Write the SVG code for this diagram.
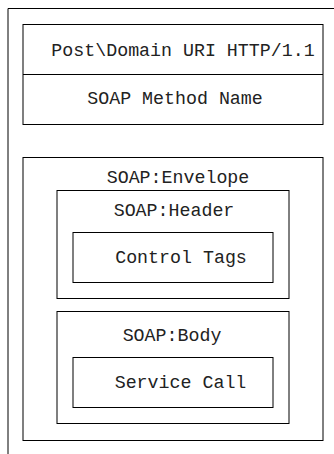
<svg xmlns="http://www.w3.org/2000/svg" width="334" height="454" viewBox="0 0 334 454">
  <style>
    .box { fill: none; stroke: #000; stroke-width: 1; }
    .lbl { font-family: "Liberation Mono", "Courier New", monospace; font-size: 18.3px; fill: #222; text-anchor: middle; }
  </style>
  <rect width="334" height="454" fill="#fff"/>

  <!-- outer frame, runs past the right and bottom edges -->
  <g id="frame">
    <path class="box" d="M8,470 V8.5 H350"/>
  </g>

  <!-- HTTP request line / method block -->
  <g id="http-header">
    <rect class="box" x="23" y="24.5" width="300" height="100"/>
    <line class="box" x1="23" y1="74.5" x2="323" y2="74.5"/>
    <text class="lbl" x="183" y="56">Post\Domain URI HTTP/1.1</text>
    <text class="lbl" x="175" y="104">SOAP Method Name</text>
  </g>

  <g id="envelope">
    <rect class="box" x="23" y="157.5" width="300" height="283"/>
    <text class="lbl" x="178" y="183">SOAP:Envelope</text>
  </g>

  <g id="soap-header">
    <rect class="box" x="57" y="190.5" width="232" height="108"/>
    <text class="lbl" x="174" y="216">SOAP:Header</text>
  </g>

  <g id="control-tags">
    <rect class="box" x="73" y="232.5" width="200" height="50"/>
    <text class="lbl" x="181" y="263">Control Tags</text>
  </g>

  <g id="soap-body">
    <rect class="box" x="57" y="311.5" width="232" height="112"/>
    <text class="lbl" x="172" y="341">SOAP:Body</text>
  </g>

  <g id="service-call">
    <rect class="box" x="73" y="357.5" width="200" height="50"/>
    <text class="lbl" x="180.5" y="388">Service Call</text>
  </g>

  <g id="connectors"/>
</svg>
